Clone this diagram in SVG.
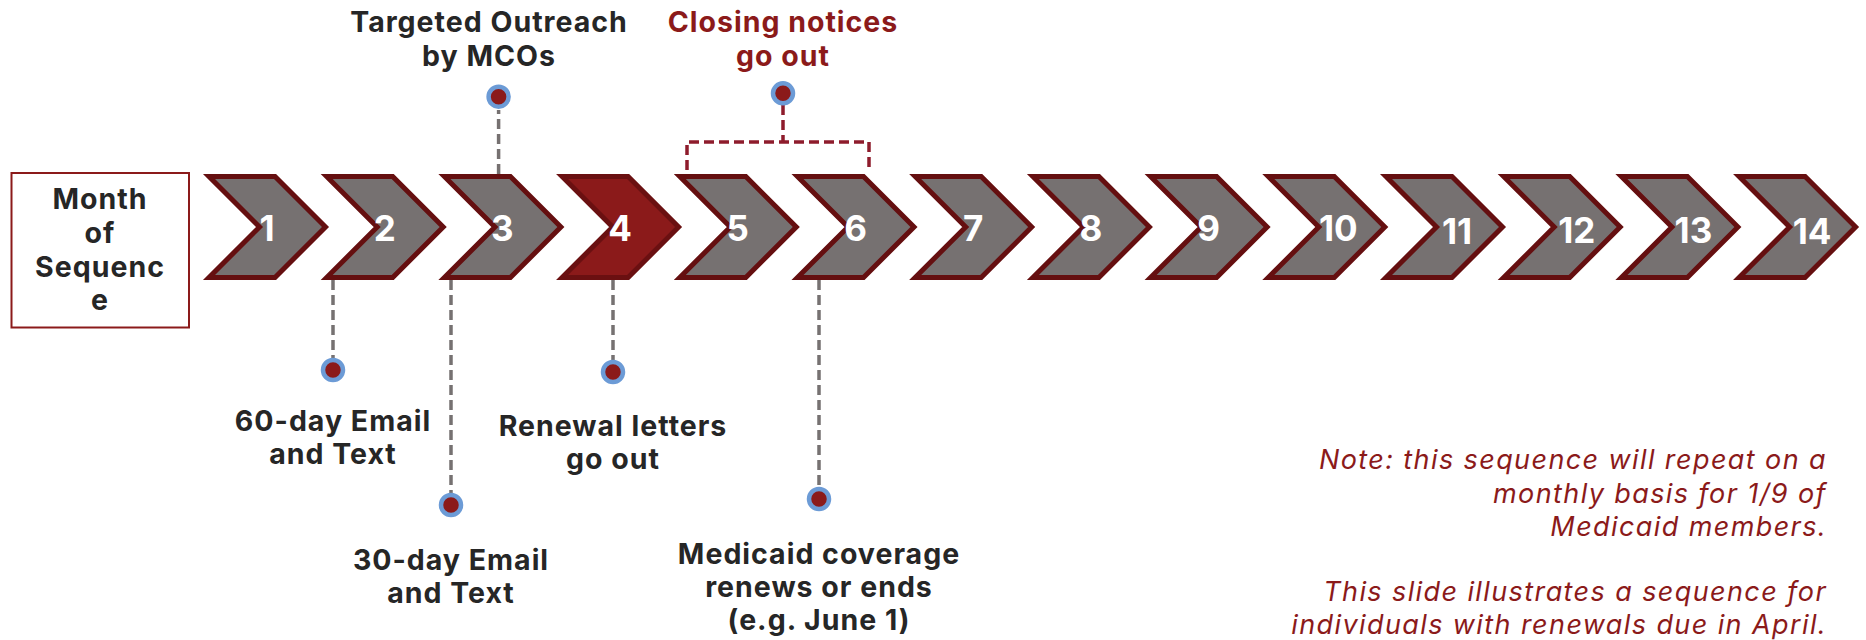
<svg xmlns="http://www.w3.org/2000/svg" width="1866" height="640" viewBox="0 0 1866 640">
<defs>
<style>
.lbl{font-family:Inter,"Open Sans","Liberation Sans",sans-serif;font-weight:700;font-size:28.5px;letter-spacing:1px;fill:#262626;text-anchor:middle}
.red{fill:#8B1A1A}
.num{font-family:Inter,"Open Sans","Liberation Sans",sans-serif;font-weight:700;font-size:35px;fill:#ffffff;text-anchor:middle}
.note{font-family:Inter,"Open Sans","Liberation Sans",sans-serif;font-style:italic;font-weight:400;font-size:27px;letter-spacing:1.4px;fill:#8B1A1A;text-anchor:end}
.chev{fill:#767171;stroke:#650F10;stroke-width:5;stroke-linejoin:miter}
.chev4{fill:#8B1A1A;stroke:#6A1011;stroke-width:5;stroke-linejoin:miter}
.dash{fill:none;stroke:#767171;stroke-width:3.5;stroke-dasharray:10 5}
.dashred{fill:none;stroke:#8E1C2C;stroke-width:3.5;stroke-dasharray:10 5}
.dot{fill:#8B1A1A;stroke:#6C9BD6;stroke-width:4.5}
</style>
<polygon id="chevShape" points="6,176.5 72,176.5 122.5,227 72,277.5 6,277.5 56.5,227"/>
</defs>

<g id="connectors">
<line class="dash" x1="498.6" y1="174" x2="498.6" y2="110"/>
<line class="dash" x1="333" y1="280" x2="333" y2="358"/>
<line class="dash" x1="451" y1="280" x2="451" y2="493"/>
<line class="dash" x1="613" y1="280" x2="613" y2="360"/>
<line class="dash" x1="819" y1="280" x2="819" y2="487"/>
<path class="dashred" d="M783,105 V142 M687,170 V142 H869 V170"/>
</g>

<g id="label-box">
<rect x="11.5" y="173" width="177.5" height="154.5" fill="#ffffff" stroke="#8B1A1A" stroke-width="2"/>
<text class="lbl" x="100" y="209">Month</text>
<text class="lbl" x="100" y="242.5">of</text>
<text class="lbl" x="100" y="276.5">Sequenc</text>
<text class="lbl" x="100" y="310">e</text>
</g>

<g id="chevron-1"><use href="#chevShape" class="chev" x="203"/><text class="num" x="267" y="241">1</text></g>
<g id="chevron-2"><use href="#chevShape" class="chev" x="320.7"/><text class="num" x="384.7" y="241">2</text></g>
<g id="chevron-3"><use href="#chevShape" class="chev" x="438.4"/><text class="num" x="502.4" y="241">3</text></g>
<g id="chevron-4"><use href="#chevShape" class="chev4" x="556.1"/><text class="num" x="620.1" y="241">4</text></g>
<g id="chevron-5"><use href="#chevShape" class="chev" x="673.8"/><text class="num" x="737.8" y="241">5</text></g>
<g id="chevron-6"><use href="#chevShape" class="chev" x="791.5"/><text class="num" x="855.5" y="241">6</text></g>
<g id="chevron-7"><use href="#chevShape" class="chev" x="909.2"/><text class="num" x="973.2" y="241">7</text></g>
<g id="chevron-8"><use href="#chevShape" class="chev" x="1026.9"/><text class="num" x="1090.9" y="241">8</text></g>
<g id="chevron-9"><use href="#chevShape" class="chev" x="1144.6"/><text class="num" x="1208.6" y="241">9</text></g>
<g id="chevron-10"><use href="#chevShape" class="chev" x="1262.3"/><text class="num" x="1338.3" y="241">10</text></g>
<g id="chevron-11"><use href="#chevShape" class="chev" x="1380"/><text class="num" x="1457" y="244">11</text></g>
<g id="chevron-12"><use href="#chevShape" class="chev" x="1497.7"/><text class="num" x="1576.7" y="243">12</text></g>
<g id="chevron-13"><use href="#chevShape" class="chev" x="1615.4"/><text class="num" x="1693.4" y="243">13</text></g>
<g id="chevron-14"><use href="#chevShape" class="chev" x="1733.1"/><text class="num" x="1812.1" y="244">14</text></g>

<g id="event-targeted-outreach">
<circle class="dot" cx="498.6" cy="96.7" r="10"/>
<text class="lbl" x="489" y="32.3">Targeted Outreach</text>
<text class="lbl" x="489" y="65.7">by MCOs</text>
</g>
<g id="event-closing-notices">
<circle class="dot" cx="783" cy="93.3" r="10"/>
<text class="lbl red" x="783" y="32.3">Closing notices</text>
<text class="lbl red" x="783" y="65.7">go out</text>
</g>
<g id="event-60-day">
<circle class="dot" cx="333" cy="370" r="10"/>
<text class="lbl" x="333" y="431">60-day Email</text>
<text class="lbl" x="333" y="464">and Text</text>
</g>
<g id="event-30-day">
<circle class="dot" cx="451" cy="505" r="10"/>
<text class="lbl" x="451" y="570">30-day Email</text>
<text class="lbl" x="451" y="603">and Text</text>
</g>
<g id="event-renewal-letters">
<circle class="dot" cx="613" cy="372" r="10"/>
<text class="lbl" x="613" y="436">Renewal letters</text>
<text class="lbl" x="613" y="469">go out</text>
</g>
<g id="event-coverage">
<circle class="dot" cx="819" cy="499" r="10"/>
<text class="lbl" x="819" y="564">Medicaid coverage</text>
<text class="lbl" x="819" y="597">renews or ends</text>
<text class="lbl" x="819" y="630">(e.g. June 1)</text>
</g>

<g id="note">
<text class="note" x="1827" y="469">Note: this sequence will repeat on a</text>
<text class="note" x="1827" y="502.5">monthly basis for 1/9 of</text>
<text class="note" x="1827" y="536">Medicaid members.</text>
<text class="note" x="1827" y="601">This slide illustrates a sequence for</text>
<text class="note" x="1827" y="634">individuals with renewals due in April.</text>
</g>
</svg>
